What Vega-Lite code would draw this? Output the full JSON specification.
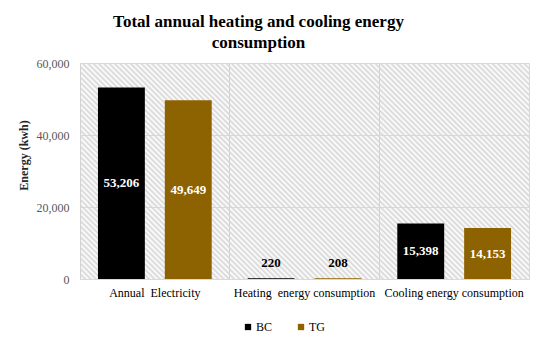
{
  "$schema": "https://vega.github.io/schema/vega-lite/v6.json",
  "width": 449,
  "height": 216,
  "autosize": {"type": "none"},
  "padding": {"left": 80, "top": 63, "right": 21, "bottom": 65},
  "background": "#ffffff",
  "title": {
    "text": ["Total annual heating and cooling energy", "consumption"],
    "font": "Liberation Serif",
    "fontSize": 17,
    "fontWeight": "bold",
    "color": "#000000",
    "lineHeight": 21,
    "anchor": "middle",
    "dx": -46,
    "offset": 5
  },
  "config": {
    "view": {"stroke": "#d9d9d9", "strokeWidth": 1},
    "axis": {"labelFont": "Liberation Serif", "titleFont": "Liberation Serif"}
  },
  "data": {
    "values": [
      {"category": "Annual\u00a0 Electricity", "group": "BC", "value": 53206},
      {"category": "Annual\u00a0 Electricity", "group": "TG", "value": 49649},
      {"category": "Heating\u00a0 energy consumption", "group": "BC", "value": 220},
      {"category": "Heating\u00a0 energy consumption", "group": "TG", "value": 208},
      {"category": "Cooling energy consumption", "group": "BC", "value": 15398},
      {"category": "Cooling energy consumption", "group": "TG", "value": 14153}
    ]
  },
  "encoding": {
    "x": {
      "field": "category",
      "type": "nominal",
      "sort": null,
      "scale": {"paddingInner": 0, "paddingOuter": 0},
      "axis": {
        "title": null,
        "labelAngle": 0,
        "labelFontSize": 12,
        "labelColor": "#000000",
        "labelPadding": 8,
        "labelLimit": 0,
        "ticks": false,
        "domain": true,
        "domainColor": "#d9d9d9",
        "grid": true,
        "gridColor": "#d0d0d0",
        "bandPosition": 0
      }
    },
    "xOffset": {
      "field": "group",
      "type": "nominal",
      "scale": {"paddingInner": 0.2985, "paddingOuter": 0.2687}
    }
  },
  "layer": [
    {
      "data": {"values": [{}]},
      "mark": {
        "type": "rect",
        "fill": {
          "gradient": "linear",
          "x1": 0, "y1": 1, "x2": 1.2027, "y2": 0.4214,
          "stops": [
{"offset":0,"color":"#d6d6d6"},{"offset":0.004,"color":"rgba(214,214,214,0)"},{"offset":0.008,"color":"#d6d6d6"},{"offset":0.012,"color":"rgba(214,214,214,0)"},{"offset":0.016,"color":"#d6d6d6"},{"offset":0.02,"color":"rgba(214,214,214,0)"},{"offset":0.024,"color":"#d6d6d6"},{"offset":0.028,"color":"rgba(214,214,214,0)"},{"offset":0.032,"color":"#d6d6d6"},{"offset":0.036,"color":"rgba(214,214,214,0)"},{"offset":0.04,"color":"#d6d6d6"},{"offset":0.044,"color":"rgba(214,214,214,0)"},{"offset":0.048,"color":"#d6d6d6"},{"offset":0.052,"color":"rgba(214,214,214,0)"},{"offset":0.056,"color":"#d6d6d6"},{"offset":0.06,"color":"rgba(214,214,214,0)"},{"offset":0.064,"color":"#d6d6d6"},{"offset":0.068,"color":"rgba(214,214,214,0)"},{"offset":0.072,"color":"#d6d6d6"},{"offset":0.076,"color":"rgba(214,214,214,0)"},{"offset":0.08,"color":"#d6d6d6"},{"offset":0.084,"color":"rgba(214,214,214,0)"},{"offset":0.088,"color":"#d6d6d6"},{"offset":0.092,"color":"rgba(214,214,214,0)"},{"offset":0.096,"color":"#d6d6d6"},{"offset":0.1,"color":"rgba(214,214,214,0)"},{"offset":0.104,"color":"#d6d6d6"},{"offset":0.108,"color":"rgba(214,214,214,0)"},{"offset":0.112,"color":"#d6d6d6"},{"offset":0.116,"color":"rgba(214,214,214,0)"},{"offset":0.12,"color":"#d6d6d6"},{"offset":0.124,"color":"rgba(214,214,214,0)"},{"offset":0.128,"color":"#d6d6d6"},{"offset":0.132,"color":"rgba(214,214,214,0)"},{"offset":0.136,"color":"#d6d6d6"},{"offset":0.14,"color":"rgba(214,214,214,0)"},{"offset":0.144,"color":"#d6d6d6"},{"offset":0.148,"color":"rgba(214,214,214,0)"},{"offset":0.152,"color":"#d6d6d6"},{"offset":0.156,"color":"rgba(214,214,214,0)"},{"offset":0.16,"color":"#d6d6d6"},{"offset":0.164,"color":"rgba(214,214,214,0)"},{"offset":0.168,"color":"#d6d6d6"},{"offset":0.172,"color":"rgba(214,214,214,0)"},{"offset":0.176,"color":"#d6d6d6"},{"offset":0.18,"color":"rgba(214,214,214,0)"},{"offset":0.184,"color":"#d6d6d6"},{"offset":0.188,"color":"rgba(214,214,214,0)"},{"offset":0.192,"color":"#d6d6d6"},{"offset":0.196,"color":"rgba(214,214,214,0)"},
{"offset":0.2,"color":"#d6d6d6"},{"offset":0.204,"color":"rgba(214,214,214,0)"},{"offset":0.208,"color":"#d6d6d6"},{"offset":0.212,"color":"rgba(214,214,214,0)"},{"offset":0.216,"color":"#d6d6d6"},{"offset":0.22,"color":"rgba(214,214,214,0)"},{"offset":0.224,"color":"#d6d6d6"},{"offset":0.228,"color":"rgba(214,214,214,0)"},{"offset":0.232,"color":"#d6d6d6"},{"offset":0.236,"color":"rgba(214,214,214,0)"},{"offset":0.24,"color":"#d6d6d6"},{"offset":0.244,"color":"rgba(214,214,214,0)"},{"offset":0.248,"color":"#d6d6d6"},{"offset":0.252,"color":"rgba(214,214,214,0)"},{"offset":0.256,"color":"#d6d6d6"},{"offset":0.26,"color":"rgba(214,214,214,0)"},{"offset":0.264,"color":"#d6d6d6"},{"offset":0.268,"color":"rgba(214,214,214,0)"},{"offset":0.272,"color":"#d6d6d6"},{"offset":0.276,"color":"rgba(214,214,214,0)"},{"offset":0.28,"color":"#d6d6d6"},{"offset":0.284,"color":"rgba(214,214,214,0)"},{"offset":0.288,"color":"#d6d6d6"},{"offset":0.292,"color":"rgba(214,214,214,0)"},{"offset":0.296,"color":"#d6d6d6"},{"offset":0.3,"color":"rgba(214,214,214,0)"},{"offset":0.304,"color":"#d6d6d6"},{"offset":0.308,"color":"rgba(214,214,214,0)"},{"offset":0.312,"color":"#d6d6d6"},{"offset":0.316,"color":"rgba(214,214,214,0)"},{"offset":0.32,"color":"#d6d6d6"},{"offset":0.324,"color":"rgba(214,214,214,0)"},{"offset":0.328,"color":"#d6d6d6"},{"offset":0.332,"color":"rgba(214,214,214,0)"},{"offset":0.336,"color":"#d6d6d6"},{"offset":0.34,"color":"rgba(214,214,214,0)"},{"offset":0.344,"color":"#d6d6d6"},{"offset":0.348,"color":"rgba(214,214,214,0)"},{"offset":0.352,"color":"#d6d6d6"},{"offset":0.356,"color":"rgba(214,214,214,0)"},{"offset":0.36,"color":"#d6d6d6"},{"offset":0.364,"color":"rgba(214,214,214,0)"},{"offset":0.368,"color":"#d6d6d6"},{"offset":0.372,"color":"rgba(214,214,214,0)"},{"offset":0.376,"color":"#d6d6d6"},{"offset":0.38,"color":"rgba(214,214,214,0)"},{"offset":0.384,"color":"#d6d6d6"},{"offset":0.388,"color":"rgba(214,214,214,0)"},{"offset":0.392,"color":"#d6d6d6"},{"offset":0.396,"color":"rgba(214,214,214,0)"},
{"offset":0.4,"color":"#d6d6d6"},{"offset":0.404,"color":"rgba(214,214,214,0)"},{"offset":0.408,"color":"#d6d6d6"},{"offset":0.412,"color":"rgba(214,214,214,0)"},{"offset":0.416,"color":"#d6d6d6"},{"offset":0.42,"color":"rgba(214,214,214,0)"},{"offset":0.424,"color":"#d6d6d6"},{"offset":0.428,"color":"rgba(214,214,214,0)"},{"offset":0.432,"color":"#d6d6d6"},{"offset":0.436,"color":"rgba(214,214,214,0)"},{"offset":0.44,"color":"#d6d6d6"},{"offset":0.444,"color":"rgba(214,214,214,0)"},{"offset":0.448,"color":"#d6d6d6"},{"offset":0.452,"color":"rgba(214,214,214,0)"},{"offset":0.456,"color":"#d6d6d6"},{"offset":0.46,"color":"rgba(214,214,214,0)"},{"offset":0.464,"color":"#d6d6d6"},{"offset":0.468,"color":"rgba(214,214,214,0)"},{"offset":0.472,"color":"#d6d6d6"},{"offset":0.476,"color":"rgba(214,214,214,0)"},{"offset":0.48,"color":"#d6d6d6"},{"offset":0.484,"color":"rgba(214,214,214,0)"},{"offset":0.488,"color":"#d6d6d6"},{"offset":0.492,"color":"rgba(214,214,214,0)"},{"offset":0.496,"color":"#d6d6d6"},{"offset":0.5,"color":"rgba(214,214,214,0)"},{"offset":0.504,"color":"#d6d6d6"},{"offset":0.508,"color":"rgba(214,214,214,0)"},{"offset":0.512,"color":"#d6d6d6"},{"offset":0.516,"color":"rgba(214,214,214,0)"},{"offset":0.52,"color":"#d6d6d6"},{"offset":0.524,"color":"rgba(214,214,214,0)"},{"offset":0.528,"color":"#d6d6d6"},{"offset":0.532,"color":"rgba(214,214,214,0)"},{"offset":0.536,"color":"#d6d6d6"},{"offset":0.54,"color":"rgba(214,214,214,0)"},{"offset":0.544,"color":"#d6d6d6"},{"offset":0.548,"color":"rgba(214,214,214,0)"},{"offset":0.552,"color":"#d6d6d6"},{"offset":0.556,"color":"rgba(214,214,214,0)"},{"offset":0.56,"color":"#d6d6d6"},{"offset":0.564,"color":"rgba(214,214,214,0)"},{"offset":0.568,"color":"#d6d6d6"},{"offset":0.572,"color":"rgba(214,214,214,0)"},{"offset":0.576,"color":"#d6d6d6"},{"offset":0.58,"color":"rgba(214,214,214,0)"},{"offset":0.584,"color":"#d6d6d6"},{"offset":0.588,"color":"rgba(214,214,214,0)"},{"offset":0.592,"color":"#d6d6d6"},{"offset":0.596,"color":"rgba(214,214,214,0)"},
{"offset":0.6,"color":"#d6d6d6"},{"offset":0.604,"color":"rgba(214,214,214,0)"},{"offset":0.608,"color":"#d6d6d6"},{"offset":0.612,"color":"rgba(214,214,214,0)"},{"offset":0.616,"color":"#d6d6d6"},{"offset":0.62,"color":"rgba(214,214,214,0)"},{"offset":0.624,"color":"#d6d6d6"},{"offset":0.628,"color":"rgba(214,214,214,0)"},{"offset":0.632,"color":"#d6d6d6"},{"offset":0.636,"color":"rgba(214,214,214,0)"},{"offset":0.64,"color":"#d6d6d6"},{"offset":0.644,"color":"rgba(214,214,214,0)"},{"offset":0.648,"color":"#d6d6d6"},{"offset":0.652,"color":"rgba(214,214,214,0)"},{"offset":0.656,"color":"#d6d6d6"},{"offset":0.66,"color":"rgba(214,214,214,0)"},{"offset":0.664,"color":"#d6d6d6"},{"offset":0.668,"color":"rgba(214,214,214,0)"},{"offset":0.672,"color":"#d6d6d6"},{"offset":0.676,"color":"rgba(214,214,214,0)"},{"offset":0.68,"color":"#d6d6d6"},{"offset":0.684,"color":"rgba(214,214,214,0)"},{"offset":0.688,"color":"#d6d6d6"},{"offset":0.692,"color":"rgba(214,214,214,0)"},{"offset":0.696,"color":"#d6d6d6"},{"offset":0.7,"color":"rgba(214,214,214,0)"},{"offset":0.704,"color":"#d6d6d6"},{"offset":0.708,"color":"rgba(214,214,214,0)"},{"offset":0.712,"color":"#d6d6d6"},{"offset":0.716,"color":"rgba(214,214,214,0)"},{"offset":0.72,"color":"#d6d6d6"},{"offset":0.724,"color":"rgba(214,214,214,0)"},{"offset":0.728,"color":"#d6d6d6"},{"offset":0.732,"color":"rgba(214,214,214,0)"},{"offset":0.736,"color":"#d6d6d6"},{"offset":0.74,"color":"rgba(214,214,214,0)"},{"offset":0.744,"color":"#d6d6d6"},{"offset":0.748,"color":"rgba(214,214,214,0)"},{"offset":0.752,"color":"#d6d6d6"},{"offset":0.756,"color":"rgba(214,214,214,0)"},{"offset":0.76,"color":"#d6d6d6"},{"offset":0.764,"color":"rgba(214,214,214,0)"},{"offset":0.768,"color":"#d6d6d6"},{"offset":0.772,"color":"rgba(214,214,214,0)"},{"offset":0.776,"color":"#d6d6d6"},{"offset":0.78,"color":"rgba(214,214,214,0)"},{"offset":0.784,"color":"#d6d6d6"},{"offset":0.788,"color":"rgba(214,214,214,0)"},{"offset":0.792,"color":"#d6d6d6"},{"offset":0.796,"color":"rgba(214,214,214,0)"},
{"offset":0.8,"color":"#d6d6d6"},{"offset":0.804,"color":"rgba(214,214,214,0)"},{"offset":0.808,"color":"#d6d6d6"},{"offset":0.812,"color":"rgba(214,214,214,0)"},{"offset":0.816,"color":"#d6d6d6"},{"offset":0.82,"color":"rgba(214,214,214,0)"},{"offset":0.824,"color":"#d6d6d6"},{"offset":0.828,"color":"rgba(214,214,214,0)"},{"offset":0.832,"color":"#d6d6d6"},{"offset":0.836,"color":"rgba(214,214,214,0)"},{"offset":0.84,"color":"#d6d6d6"},{"offset":0.844,"color":"rgba(214,214,214,0)"},{"offset":0.848,"color":"#d6d6d6"},{"offset":0.852,"color":"rgba(214,214,214,0)"},{"offset":0.856,"color":"#d6d6d6"},{"offset":0.86,"color":"rgba(214,214,214,0)"},{"offset":0.864,"color":"#d6d6d6"},{"offset":0.868,"color":"rgba(214,214,214,0)"},{"offset":0.872,"color":"#d6d6d6"},{"offset":0.876,"color":"rgba(214,214,214,0)"},{"offset":0.88,"color":"#d6d6d6"},{"offset":0.884,"color":"rgba(214,214,214,0)"},{"offset":0.888,"color":"#d6d6d6"},{"offset":0.892,"color":"rgba(214,214,214,0)"},{"offset":0.896,"color":"#d6d6d6"},{"offset":0.9,"color":"rgba(214,214,214,0)"},{"offset":0.904,"color":"#d6d6d6"},{"offset":0.908,"color":"rgba(214,214,214,0)"},{"offset":0.912,"color":"#d6d6d6"},{"offset":0.916,"color":"rgba(214,214,214,0)"},{"offset":0.92,"color":"#d6d6d6"},{"offset":0.924,"color":"rgba(214,214,214,0)"},{"offset":0.928,"color":"#d6d6d6"},{"offset":0.932,"color":"rgba(214,214,214,0)"},{"offset":0.936,"color":"#d6d6d6"},{"offset":0.94,"color":"rgba(214,214,214,0)"},{"offset":0.944,"color":"#d6d6d6"},{"offset":0.948,"color":"rgba(214,214,214,0)"},{"offset":0.952,"color":"#d6d6d6"},{"offset":0.956,"color":"rgba(214,214,214,0)"},{"offset":0.96,"color":"#d6d6d6"},{"offset":0.964,"color":"rgba(214,214,214,0)"},{"offset":0.968,"color":"#d6d6d6"},{"offset":0.972,"color":"rgba(214,214,214,0)"},{"offset":0.976,"color":"#d6d6d6"},{"offset":0.98,"color":"rgba(214,214,214,0)"},{"offset":0.984,"color":"#d6d6d6"},{"offset":0.988,"color":"rgba(214,214,214,0)"},{"offset":0.992,"color":"#d6d6d6"},{"offset":0.996,"color":"rgba(214,214,214,0)"},{"offset":1,"color":"#d6d6d6"}
          ]
        }
      },
      "encoding": {
        "x": {"value": 0},
        "x2": {"value": "width"},
        "y": {"value": 0},
        "y2": {"value": "height"},
        "xOffset": null
      }
    },
    {
      "mark": {"type": "bar"},
      "encoding": {
        "y": {
          "field": "value",
          "type": "quantitative",
          "scale": {"domain": [0, 60000], "nice": false},
          "axis": {
            "title": "Energy (kwh)",
            "titleFontSize": 12,
            "titleFontWeight": "bold",
            "titleColor": "#262626",
            "titlePadding": 6,
            "titleY": 92,
            "values": [0, 20000, 40000, 60000],
            "format": ",d",
            "labelFontSize": 12,
            "labelColor": "#595959",
            "labelPadding": 11,
            "ticks": false,
            "domain": false,
            "grid": true,
            "gridColor": "#d9d9d9"
          }
        },
        "color": {
          "field": "group",
          "type": "nominal",
          "scale": {"domain": ["BC", "TG"], "range": ["#000000", "#8D6200"]},
          "legend": {
            "title": null,
            "orient": "none",
            "legendX": 162,
            "legendY": 258,
            "direction": "horizontal",
            "symbolType": "square",
            "symbolSize": 40,
            "symbolStrokeWidth": 0,
            "labelFont": "Liberation Serif",
            "labelFontSize": 12,
            "labelColor": "#000000",
            "labelOffset": 2,
            "columnPadding": 22
          }
        }
      }
    },
    {
      "transform": [
        {"filter": "datum.value > 1000"},
        {"calculate": "datum.value / 2", "as": "mid"}
      ],
      "mark": {
        "type": "text",
        "font": "Liberation Serif",
        "fontSize": 13,
        "fontWeight": "bold",
        "color": "#ffffff",
        "baseline": "middle"
      },
      "encoding": {
        "y": {
          "field": "mid",
          "type": "quantitative",
          "axis": {
            "title": "Energy (kwh)",
            "titleFontSize": 12,
            "titleFontWeight": "bold",
            "titleColor": "#262626",
            "titlePadding": 6,
            "titleY": 92,
            "values": [0, 20000, 40000, 60000],
            "format": ",d",
            "labelFontSize": 12,
            "labelColor": "#595959",
            "labelPadding": 11,
            "ticks": false,
            "domain": false,
            "grid": true,
            "gridColor": "#d9d9d9"
          }
        },
        "text": {"field": "value", "type": "quantitative", "format": ","}
      }
    },
    {
      "transform": [{"filter": "datum.value < 1000"}],
      "mark": {
        "type": "text",
        "font": "Liberation Serif",
        "fontSize": 13,
        "fontWeight": "bold",
        "color": "#000000",
        "baseline": "middle",
        "dy": -15
      },
      "encoding": {
        "y": {
          "field": "value",
          "type": "quantitative",
          "axis": {
            "title": "Energy (kwh)",
            "titleFontSize": 12,
            "titleFontWeight": "bold",
            "titleColor": "#262626",
            "titlePadding": 6,
            "titleY": 92,
            "values": [0, 20000, 40000, 60000],
            "format": ",d",
            "labelFontSize": 12,
            "labelColor": "#595959",
            "labelPadding": 11,
            "ticks": false,
            "domain": false,
            "grid": true,
            "gridColor": "#d9d9d9"
          }
        },
        "text": {"field": "value", "type": "quantitative", "format": ","}
      }
    }
  ]
}
